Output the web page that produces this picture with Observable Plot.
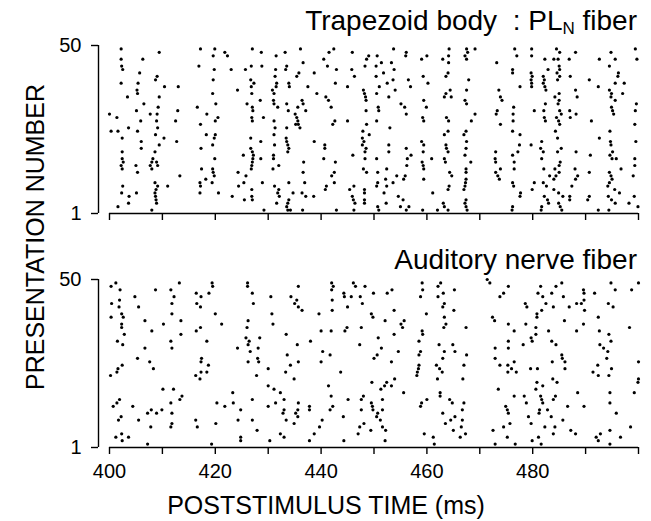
<!DOCTYPE html>
<html><head><meta charset="utf-8">
<script src="https://cdn.jsdelivr.net/npm/d3@7"></script>
<script src="https://cdn.jsdelivr.net/npm/@observablehq/plot@0.6"></script>
<style>
body{margin:0;background:#fff;}
#wrap{position:relative;width:651px;height:521px;font-family:"Liberation Sans",Arial,Helvetica,sans-serif;color:#000;overflow:hidden;}
#wrap svg{position:absolute;left:0;font-family:"Liberation Sans",Arial,Helvetica,sans-serif;}
.ttl{position:absolute;right:14px;font-size:28px;line-height:28px;white-space:pre;}
.ttl sub{font-size:17px;vertical-align:baseline;position:relative;top:4px;}
.ylab{position:absolute;left:35px;top:237px;font-size:25px;line-height:25px;white-space:nowrap;transform:translate(-50%,-50%) rotate(-90deg);}
.xlab{position:absolute;left:326px;top:493px;font-size:25px;line-height:25px;white-space:nowrap;transform:translateX(-50%);}
</style>
</head><body>
<div id="wrap">
  <div class="ttl" style="top:7px">Trapezoid body  : PL<sub>N</sub> fiber</div>
  <div class="ttl" style="top:246px">Auditory nerve fiber</div>
  <div class="ylab">PRESENTATION NUMBER</div>
  <div class="xlab">POSTSTIMULUS TIME (ms)</div>
</div>
<script>
// spike times (ms) and presentation numbers
const trapezoidSpikes = [
[400.0,30],[400.3,25],[401.4,29],[401.6,25],[401.6,3],
[402.2,49],[402.2,46],[402.3,44],[402.5,43],[402.2,39],[402.4,23],[402.4,19],[402.4,17],[402.6,16],[402.2,15],[402.4,14],[402.5,9],[402.3,7],
[403.4,35],[403.7,6],[403.6,4],[403.6,26],[405.1,31],[405.1,7],[405.2,37],[405.3,36],[405.4,39],[405.3,25],[405.0,15],[405.3,13],[405.7,42],[405.9,28],[406.0,22],[406.0,20],[406.3,46],[406.5,33],
[409.4,48],[409.0,41],[408.7,40],[410.4,38],[409.4,35],[409.2,32],[407.7,30],[409.0,30],[408.9,28],[409.1,26],[408.7,24],[409.4,21],[410.3,23],[408.6,19],[408.2,17],[408.0,16],[408.9,16],[409.1,15],[407.7,15],[408.0,14],[408.6,10],[408.8,8],[409.1,9],[408.6,7],[408.7,6],[408.8,5],[408.9,4],[408.0,2],[411.0,9],[413.0,38],[412.9,31],[412.5,28],[412.7,22],[413.3,12],
[417.2,49],[419.9,49],[419.6,47],[416.9,44],[419.8,43],[419.6,40],[419.5,36],[420.1,33],[416.6,32],[418.4,30],[420.5,29],[420.0,28],[417.2,27],[418.3,24],[420.0,24],[419.8,23],[419.5,21],[417.3,20],[419.9,17],[417.4,14],[419.5,14],[419.6,13],[419.8,12],[418.2,11],[417.1,10],[419.4,10],[420.6,7],[417.2,9],[417.1,7],
[421.8,48],[422.3,47],[427.0,49],[428.7,48],[431.5,47],[433.2,48],[436.1,49],[423.0,43],[425.7,43],[426.8,44],[428.8,44],[431.4,43],[433.5,44],[433.3,43],[436.6,45],[435.8,42],[435.4,41],[438.7,42],[440.5,46],[441.5,48],[442.4,49],[441.2,44],[442.9,43],[445.9,48],[445.8,43],[446.3,41],
[431.3,41],[426.7,40],[427.3,39],[426.8,38],[426.9,36],[424.2,37],[431.6,39],[431.5,38],[433.9,39],[434.0,38],[437.5,38],[442.7,39],[445.0,38],[430.8,37],[431.1,36],[439.2,36],[440.9,35],[441.4,34],[428.5,34],[431.0,34],[431.1,33],[426.0,33],[436.4,34],[436.6,33],[433.5,33],[427.0,32],[427.1,31],[431.8,32],[435.6,32],[433.8,31],[437.1,31],[441.9,32],
[435.1,30],[435.4,29],[435.6,28],[435.7,27],[435.2,27],[429.1,29],[426.9,29],[427.0,28],[431.1,28],[442.6,28],[442.2,27],[445.0,28],[431.3,26],[433.5,26],[436.0,26],[431.1,24],[426.7,23],[428.6,22],[433.4,23],[433.5,22],[433.7,21],[433.9,20],[433.7,19],[438.7,22],[431.2,21],[440.7,21],[440.7,20],
[426.7,20],[427.0,19],[427.2,18],[427.1,17],[427.0,16],[426.9,15],[426.8,14],[425.3,18],[428.6,17],[431.0,18],[431.0,17],[440.5,17],[436.7,16],[442.7,16],[446.0,18],[432.0,15],[430.9,14],[424.3,13],[425.8,12],[425.4,10],[424.4,9],[436.6,13],[442.5,13],[442.0,12],[428.9,10],[431.2,9],[432.0,8],[431.8,7],[432.1,6],[433.9,10],[436.9,10],[426.9,8],[426.9,6],[427.0,5],[423.2,6],[425.5,5],[434.7,7],[436.4,7],[437.1,6],[438.6,6],[441.0,9],[440.8,8],[442.5,10],[445.4,8],[446.2,9],[445.9,6],[446.1,5],[446.4,4],[431.6,4],[433.9,5],[433.7,4],[433.5,3],[433.7,2],[434.2,2],[429.2,2],[436.5,2],[442.9,2],[446.2,2],
[448.3,44],[448.6,46],[449.0,47],[450.6,47],[453.7,49],[456.1,48],[456.0,47],[459.0,46],[460.0,47],[463.0,46],[464.1,47],[464.2,49],[467.5,49],[467.7,48],[467.2,47],[467.5,46],[469.1,49],[450.4,44],[451.4,45],[453.3,45],[453.8,43],[464.1,45],[464.0,42],[463.6,41],[459.3,41],[451.8,42],[450.4,41],[473.2,45],[453.6,40],[452.5,39],[456.5,40],[456.9,38],[460.2,39],[451.0,38],[450.5,36],[454.0,37],[448.0,37],[448.2,36],[448.4,35],[448.5,34],[452.8,35],[464.4,37],[463.6,36],[463.3,35],[464.6,35],
[467.9,40],[467.5,37],[467.2,34],[467.5,33],[459.4,34],[455.1,33],[455.8,32],[459.9,32],[473.6,37],
[448.5,31],[450.8,32],[450.9,31],[456.1,30],[459.2,29],[459.4,28],[463.7,29],[464.1,28],[469.1,30],[468.4,28],[450.5,28],[448.6,27],[473.3,31],[473.1,30],[453.0,26],[447.9,25],[449.1,24],[447.8,23],[448.1,22],[447.8,21],[448.5,20],[448.3,19],[464.0,25],[463.3,24],[467.4,25],[467.0,24],[467.5,22],[459.0,22],[459.4,21],[452.8,21],[452.8,19],[456.1,20],[463.6,21],[463.7,20],[464.0,19],[467.4,20],[459.3,19],[457.0,18],[456.3,17],[448.3,17],[450.5,17],[467.2,18],[460.9,17],[459.1,16],[459.3,15],[459.4,14],[463.3,17],[463.5,16],[468.3,16],[456.2,15],[473.0,19],[472.9,17],[473.0,16],[448.0,14],[448.6,13],[452.4,14],[450.7,13],[464.3,13],[464.7,12],[467.4,14],[467.4,13],[473.0,13],[473.4,12],[473.7,11],[454.3,12],[455.9,12],[455.6,11],[452.2,11],[459.4,11],[450.7,10],[450.5,9],[453.6,10],[452.4,9],[467.4,11],[467.3,10],[467.2,9],[467.0,8],[464.2,9],[464.0,8],[448.2,8],[448.2,7],[451.9,7],[461.1,7],[454.6,6],[455.5,5],[448.2,5],[448.2,4],[467.4,5],[467.2,4],[467.4,3],[467.6,2],[452.3,4],[463.1,4],[450.7,3],[450.9,2],[455.0,3],[456.6,3],[456.1,2],[459.2,2],[462.0,2],[463.3,3],[464.0,2],
[473.9,35],[474.2,34],[473.9,27],[473.9,14],[476.6,49],[477.0,47],[479.8,49],[479.8,47],[476.2,43],[476.2,42],[479.7,42],[479.9,41],[479.7,40],[479.8,39],[479.8,38],[477.6,38],[482.0,41],[482.2,40],[482.0,39],[482.3,38],[482.5,37],[482.3,46],[484.0,46],[484.5,49],[485.1,48],[484.8,46],[486.9,46],[488.1,48],[485.0,44],[484.6,42],[485.1,43],[485.1,41],[484.7,40],[482.9,43],[487.1,41],[488.1,37],[488.4,35],[490.7,40],[492.6,46],[494.8,48],[495.6,46],[494.5,44],[496.2,42],[496.1,41],[495.6,39],[497.3,39],[497.0,36],[492.4,38],[494.5,37],[494.9,36],[494.8,35],[495.6,34],[499.4,49],[499.7,46],[485.0,36],[485.0,34],[484.8,33],[484.2,35],[482.4,33],[476.4,32],[476.3,30],[476.3,28],[480.3,31],[482.1,31],[482.2,29],[482.4,28],[485.1,31],[485.4,30],[484.5,29],[484.9,28],[485.1,27],[487.0,31],[487.1,29],[488.2,30],[491.1,28],[494.9,32],[495.1,31],[495.3,30],[499.6,33],[499.4,31],[499.3,27],[476.2,25],[477.6,24],[484.3,25],[484.7,23],[492.6,23],[494.6,25],[494.7,22],[494.8,21],[499.5,22],[477.5,21],[479.7,21],[481.7,22],[481.5,20],[485.4,20],[484.7,19],[477.2,19],[482.0,19],[488.2,19],[476.2,18],[490.9,18],[494.6,18],[495.1,19],[495.0,17],[481.7,17],[485.2,16],[485.0,15],[499.3,17],[499.3,15],[476.5,16],[476.5,14],[482.1,14],[484.2,14],[488.0,14],[495.8,17],[496.7,14],[494.5,13],[494.8,12],[490.7,13],[485.0,13],[484.4,12],[484.0,11],[483.2,12],[488.5,12],[488.1,11],[499.0,12],[476.2,10],[476.4,9],[480.3,10],[479.9,8],[482.0,10],[482.6,9],[484.0,8],[484.9,7],[485.7,6],[487.4,9],[494.2,9],[494.5,10],[495.0,11],[495.5,8],[496.4,7],[477.7,7],[477.6,6],[482.2,6],[487.0,6],[487.0,5],[490.7,6],[490.4,5],[494.3,6],[494.9,5],[495.6,4],[499.2,6],[498.2,4],[482.8,5],[483.0,4],[484.9,4],[485.2,3],[485.5,2],[476.2,3],[476.1,2],[481.7,3],[481.6,2],[492.4,2],[494.4,2],[499.9,3]
];
const auditorySpikes = [
[400.3,48],[401.2,49],[402.0,47],[400.4,43],[401.9,44],[401.8,42],[400.3,39],[402.3,40],[402.6,39],[402.3,37],[402.3,36],[402.8,34],[401.5,32],[402.5,31],[404.8,45],[405.5,42],[408.7,47],[406.7,38],[410.2,37],[408.0,35],[406.7,30],[405.3,27],[407.6,26],[408.3,24],[402.4,25],[401.6,24],[401.4,23],[400.2,22],[411.6,47],[413.2,49],[412.2,45],[411.8,43],[411.8,40],[413.5,38],[413.5,34],[411.6,32],[411.8,30],[410.1,18],[412.1,18],[413.7,16],[413.3,15],[411.6,14],[401.9,15],[401.4,14],[400.7,13],[404.4,13],[407.9,12],[409.9,12],[407.2,11],[408.9,11],[411.8,11],[402.2,10],[401.7,9],[405.5,9],[411.8,8],[411.6,7],[407.8,7],[401.2,4],[402.3,5],[402.4,3],[403.6,4],[407.2,2],[416.4,46],[417.3,45],[416.5,43],[417.2,42],[418.8,46],[419.4,49],[419.5,48],[420.0,40],[417.2,36],[416.4,35],[418.4,32],[417.4,27],[417.3,26],[418.7,25],[417.3,23],[418.4,23],[416.3,22],[417.1,21],[420.3,14],[416.3,9],[416.6,7],[420.1,8],[419.3,2],
[421.2,37],[421.8,13],[426.1,49],[426.1,48],[427.0,46],[427.2,43],[430.5,45],[430.7,40],[430.9,37],[434.3,45],[435.4,44],[435.0,43],[435.7,42],[436.4,41],[435.7,48],[426.2,38],[426.0,36],[425.8,33],[426.4,32],[426.2,31],[428.4,33],[424.2,30],[428.1,30],[426.6,29],[428.0,27],[428.2,26],[426.2,26],[433.4,34],[435.5,31],[433.6,28],[435.7,26],[434.2,25],[433.3,23],[434.9,21],[430.0,24],[427.8,22],[430.0,19],[431.1,18],[432.3,17],[423.3,17],[423.4,14],[424.8,12],[427.0,15],[430.0,13],[431.4,14],[433.0,15],[433.0,12],[432.8,11],[435.7,14],[435.6,12],[435.2,11],[435.6,10],[433.4,9],[434.9,8],[424.3,9],[427.0,9],[427.9,6],[424.8,4],[424.8,3],[430.3,3],[432.3,5],[433.0,4],[437.8,13],[437.8,12],[438.0,32],[439.6,40],[440.0,35],[440.0,26],[440.3,29],[441.7,28],[442.0,49],[442.3,48],[442.0,47],[442.1,44],[442.1,41],[441.9,35],[443.7,23],[441.4,19],[441.9,16],[442.2,13],[441.7,12],[440.2,9],[439.7,7],[438.7,5],[437.8,3],[444.2,10],[444.3,3],[445.1,15],[444.3,46],[444.4,45],[445.0,42],[445.7,45],[446.1,49],[446.5,48],[444.9,36],[444.5,35],[447.3,31],[447.3,7],[447.0,5],
[447.4,45],[447.8,43],[447.6,36],[448.0,16],[447.6,15],[447.6,12],[448.1,8],[448.3,48],[449.9,46],[452.5,46],[453.4,47],[449.5,40],[449.8,39],[452.1,38],[453.8,41],[455.1,37],[455.4,36],[455.7,38],[453.8,34],[450.8,33],[451.4,30],[450.6,28],[450.0,27],[454.6,29],[453.3,26],[459.1,49],[459.2,47],[458.8,45],[459.9,40],[459.1,35],[459.2,34],[458.5,32],[458.8,29],[458.5,28],[458.5,25],[458.4,24],[458.2,23],[458.1,22],[462.6,49],[462.1,48],[463.1,46],[462.1,45],[463.3,43],[463.0,42],[465.2,47],[465.1,41],[463.3,39],[463.6,37],[463.2,36],[467.4,36],[462.3,31],[463.3,29],[463.0,27],[464.9,31],[465.3,29],[467.5,28],[467.0,25],[461.8,25],[462.4,24],[462.9,23],[462.0,21],[466.8,21],[449.6,20],[451.3,18],[452.0,19],[452.4,20],[453.3,19],[453.9,21],[455.6,17],[462.5,17],[462.5,16],[451.6,15],[449.5,14],[449.7,13],[451.6,12],[449.8,12],[450.7,11],[450.5,10],[451.2,9],[451.6,7],[452.2,6],[449.4,6],[452.1,3],[460.0,15],[459.0,14],[458.8,13],[464.3,15],[464.8,14],[467.0,14],[466.7,12],[463.0,11],[464.5,9],[463.5,8],[465.3,10],[466.7,9],[466.5,7],[466.3,4],[467.3,5],[465.0,6],[459.5,5],[461.2,4],[461.4,2],[471.4,50],[471.9,49],[472.4,39],[472.8,38],[473.8,45],[472.9,30],[472.9,27],[473.8,25],[473.5,18],[472.5,6],[472.9,2],
[474.5,46],[475.4,48],[475.3,25],[475.3,23],[476.0,24],[476.5,26],[476.9,23],[475.4,37],[476.5,35],[475.4,32],[475.4,30],[478.2,31],[478.7,37],[478.6,43],[478.9,42],[476.5,16],[478.4,16],[478.8,14],[474.9,13],[475.2,12],[475.4,11],[475.7,8],[474.5,7],[475.2,4],[476.7,2],[479.2,10],[479.7,8],[479.9,3],[481.1,4],[481.6,2],[479.6,24],[480.9,24],[481.5,48],[481.0,46],[481.9,45],[482.5,43],[481.7,41],[480.8,40],[480.8,39],[480.6,36],[480.6,34],[479.7,33],[479.9,32],[483.0,35],[483.6,32],[484.4,31],[483.7,26],[485.5,28],[485.6,27],[486.1,26],[486.1,24],[483.6,46],[484.4,48],[485.5,49],[483.9,42],[485.8,45],[486.0,38],[486.9,42],[488.3,43],[489.6,47],[489.7,46],[489.7,44],[489.8,41],[489.2,43],[489.6,37],[488.3,35],[491.7,46],[492.4,39],[492.6,35],[492.7,31],[493.4,30],[494.2,29],[494.0,27],[494.4,34],[494.8,32],[494.8,49],[495.6,47],[494.3,43],[495.2,42],[498.7,47],[500.0,49],[498.3,36],[492.3,25],[492.4,22],[491.4,23],[494.9,24],[494.4,22],[483.8,21],[484.6,20],[480.8,20],[481.9,19],[480.6,18],[481.5,16],[481.7,15],[481.9,14],[484.3,16],[483.9,15],[488.5,17],[486.6,13],[489.7,13],[482.8,12],[481.3,12],[481.2,11],[483.5,10],[485.7,9],[482.3,7],[484.2,7],[483.9,5],[487.2,6],[488.1,5],[494.6,17],[494.6,14],[499.2,17],[500.0,21],[499.9,20],[500.0,26],[495.8,11],[498.5,7],[494.6,6],[492.0,4],[492.4,3],[492.8,5],[494.6,2],[496.6,4]
];
const timeDomain = [400, 500];
const trialDomain = [1, 50];
const xTicks = [400, 410, 420, 430, 440, 450, 460, 470, 480, 490, 500];
const xTickLabels = [400, 420, 440, 460, 480];
const yTicks = [1, 50];

function panel(spikes, {height, marginTop, marginBottom, labels}) {
  return Plot.plot({
    width: 651,
    height,
    marginLeft: 109,
    marginRight: 13,
    marginTop,
    marginBottom,
    x: {domain: timeDomain},
    y: {domain: trialDomain},
    style: {fontFamily: '"Liberation Sans", Arial, sans-serif', color: "black", background: "white", overflow: "visible"},
    marks: [
      Plot.ruleX([timeDomain[0]], {y1: trialDomain[0], y2: trialDomain[1], dx: -11, strokeWidth: 1.4, stroke: "black"}),
      Plot.ruleY([trialDomain[0]], {x1: timeDomain[0], x2: timeDomain[1], strokeWidth: 1.4, stroke: "black"}),
      Plot.axisY({ticks: yTicks, tickSize: 7, tickPadding: 10, dx: -11, fontSize: 20, strokeWidth: 1.4, label: null, tickFormat: d => String(d)}),
      Plot.axisX({ticks: xTicks, tickSize: 7, tickPadding: 9, fontSize: 20, strokeWidth: 1.4, label: null,
        tickFormat: d => (labels && xTickLabels.includes(d)) ? String(d) : ""}),
      Plot.dot(spikes, {x: d => d[0], y: d => d[1], r: 1.6, fill: "black", stroke: null})
    ]
  });
}

const wrap = document.getElementById("wrap");
const top1 = panel(trapezoidSpikes, {height: 240, marginTop: 45, marginBottom: 27, labels: false});
top1.style.top = "0px";
const bot = panel(auditorySpikes, {height: 281, marginTop: 39, marginBottom: 74, labels: true});
bot.style.top = "240px";
wrap.insertBefore(bot, wrap.firstChild);
wrap.insertBefore(top1, wrap.firstChild);
</script>
</body></html>
